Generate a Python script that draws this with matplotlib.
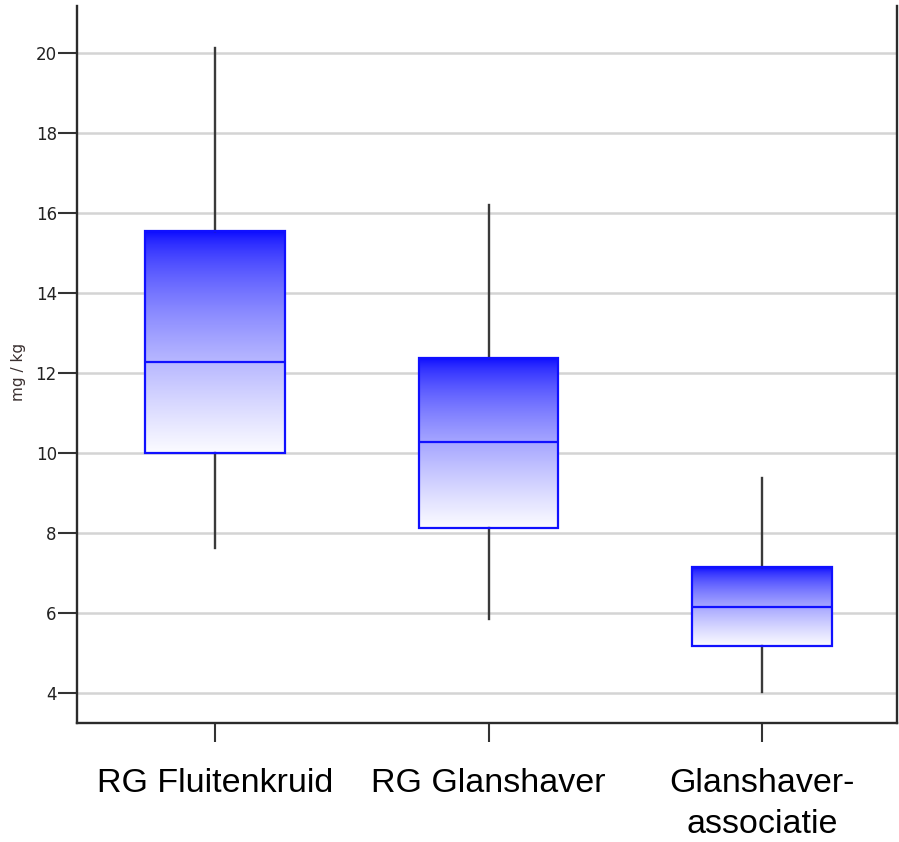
import numpy as np
import matplotlib.pyplot as plt

# box statistics (mg / kg)
categories = ['RG Fluitenkruid', 'RG Glanshaver', 'Glanshaver-\nassociatie']
whislo = [7.62, 5.85, 4.02]
q1 = [10.0, 8.12, 5.18]
med = [12.28, 10.28, 6.15]
q3 = [15.56, 12.38, 7.15]
whishi = [20.12, 16.2, 9.38]
yticks = [4, 6, 8, 10, 12, 14, 16, 18, 20]

positions = [1, 2, 3]
box_w = 0.51

fig = plt.figure(figsize=(8.99, 8.42), dpi=100)
ax = fig.add_axes([77 / 899, 1 - 723 / 842, 820 / 899, 717 / 842])

stats = [dict(label=c, whislo=a, q1=b, med=m, q3=d, whishi=e)
         for c, a, b, m, d, e in zip(categories, whislo, q1, med, q3, whishi)]

ax.bxp(stats, positions=positions, widths=box_w, patch_artist=True,
       showfliers=False, showcaps=False,
       boxprops=dict(facecolor='none', edgecolor='#1010ff', linewidth=1.6, zorder=4),
       medianprops=dict(color='#1010ff', linewidth=1.6, zorder=5),
       whiskerprops=dict(color='#3a3a3a', linewidth=1.7, zorder=3))

# vertical gradient inside each box: blue on top fading to white
n = 256
t = np.linspace(0, 1, n)  # 0 at top, 1 at bottom
rg = 0.985 * t ** 0.6
grad = np.zeros((n, 1, 3))
grad[:, 0, 0] = rg
grad[:, 0, 1] = rg
grad[:, 0, 2] = 1.0
for p, lo, hi in zip(positions, q1, q3):
    ax.imshow(grad, extent=[p - box_w / 2, p + box_w / 2, lo, hi],
              aspect='auto', origin='upper', interpolation='bilinear', zorder=2)

ax.set_xlim(0.495, 3.493)
ax.set_ylim(3.25, 21.175)
ax.set_yticks(yticks)
ax.set_xticks(positions)
ax.set_xticklabels(categories, fontsize=24.5, family='Liberation Sans',
                   linespacing=1.4)
ax.set_yticklabels([str(v) for v in yticks], fontsize=12, color='#222222',
                   family='DejaVu Sans')

ax.yaxis.grid(True, color='#d4d4d4', linewidth=1.8)
ax.set_axisbelow(True)

ax.spines['top'].set_visible(False)
for s in ['left', 'right', 'bottom']:
    ax.spines[s].set_color('#2b2b2b')
    ax.spines[s].set_linewidth(1.7)

ax.tick_params(axis='x', length=13.5, width=1.5, pad=19, color='#333333')
ax.tick_params(axis='y', length=13.5, width=1.5, pad=1, color='#333333')

ax.set_ylabel('mg / kg', fontsize=11, color='#3a3030')
ax.yaxis.set_label_coords((26 - 77) / 820, 0.49)

fig.savefig('out.png', dpi=100)
